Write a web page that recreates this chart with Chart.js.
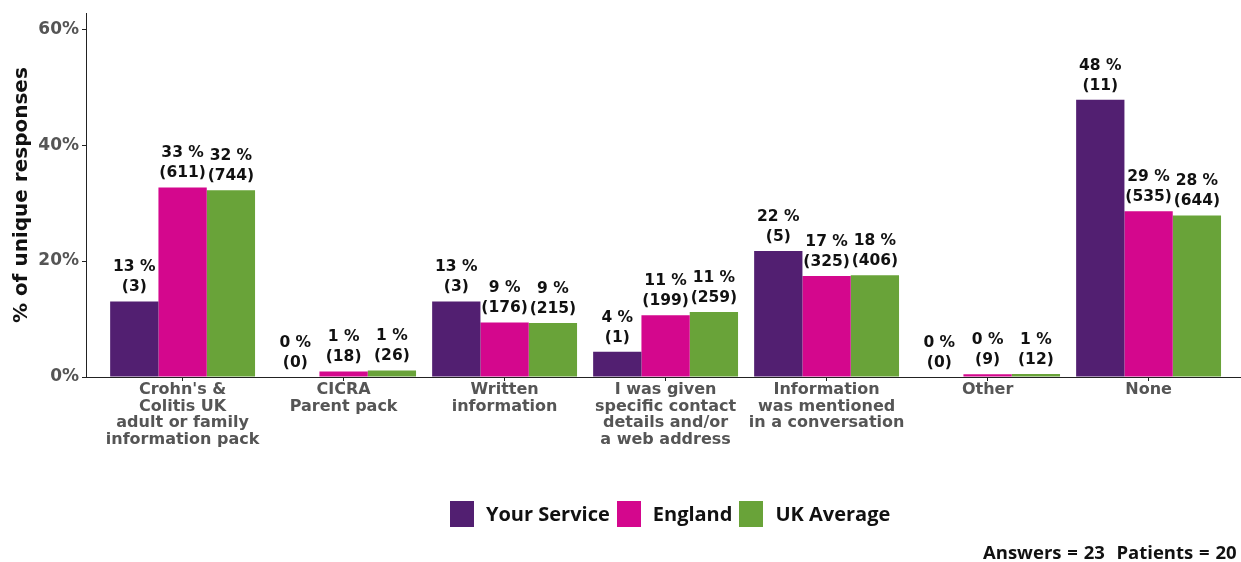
<!DOCTYPE html>
<html>
<head>
<meta charset="utf-8">
<script src="https://cdn.jsdelivr.net/npm/chart.js@4/dist/chart.umd.min.js"></script>
<style>
  body { margin: 0; background: #fff; overflow: hidden; }
  #wrap { position: relative; width: 1241px; height: 562px; overflow: hidden; }
  #legend { position: absolute; left: 450px; top: 500px; display: flex; align-items: center;
            font: bold 20px "Open Sans", sans-serif; color: #111; }
  #legend span.box { display: inline-block; width: 24px; height: 26px; }
  #legend span.txt { margin: 0 7px 0 12px; }
  #footer { position: absolute; left: 983px; top: 539px; white-space: nowrap; word-spacing: 1px;
            font: bold 18.5px "Open Sans", sans-serif; color: #111; }
</style>
</head>
<body>
<div id="wrap">
  <canvas id="chart" width="1241" height="562"></canvas>
  <div id="legend"></div>
  <div id="footer">Answers = 23&nbsp; Patients = 20</div>
</div>
<script>
// categories (one array per label, one line per entry)
const categories = [
  ["Crohn's &", "Colitis UK", "adult or family", "information pack"],
  ["CICRA", "Parent pack"],
  ["Written", "information"],
  ["I was given", "specific contact", "details and/or", "a web address"],
  ["Information", "was mentioned", "in a conversation"],
  ["Other"],
  ["None"]
];

const seriesNames = ["Your Service", "England", "UK Average"];
const seriesColors = ["#521f71", "#d4078d", "#69a339"];

// percentages
const yourService = [13.04, 0, 13.04, 4.35, 21.74, 0, 47.83];
const england = [32.7, 0.96, 9.42, 10.65, 17.4, 0.48, 28.6];
const ukAverage = [32.2, 1.13, 9.3, 11.2, 17.57, 0.52, 27.87];

// response counts
const yourServiceN = [3, 0, 3, 1, 5, 0, 11];
const englandN = [611, 18, 176, 199, 325, 9, 535];
const ukAverageN = [744, 26, 215, 259, 406, 12, 644];

const yTicks = [0, 20, 40, 60];

const values = [yourService, england, ukAverage];
const counts = [yourServiceN, englandN, ukAverageN];

// labels above each bar: "13 %" and "(3)"
const barLabels = {
  id: "barLabels",
  afterDatasetsDraw(chart) {
    const ctx = chart.ctx;
    ctx.save();
    ctx.font = "bold 15.5px 'DejaVu Sans'";
    ctx.fillStyle = "#111";
    ctx.textAlign = "center";
    ctx.textBaseline = "middle";
    chart.data.datasets.forEach((ds, d) => {
      chart.getDatasetMeta(d).data.forEach((bar, i) => {
        ctx.fillText(Math.round(values[d][i]) + " %", bar.x, bar.y - 34);
        ctx.fillText("(" + counts[d][i] + ")", bar.x, bar.y - 14);
      });
    });
    ctx.restore();
  }
};

new Chart(document.getElementById("chart"), {
  type: "bar",
  data: {
    datasets: seriesNames.map((name, d) => ({
      label: name,
      data: values[d].map((v, i) => ({ x: i + 1, y: v })),
      backgroundColor: seriesColors[d],
      categoryPercentage: 0.9,
      barPercentage: 1
    }))
  },
  options: {
    responsive: false,
    animation: false,
    layout: { padding: { top: 11, left: 0, right: 0, bottom: 0 } },
    plugins: { legend: { display: false }, tooltip: { enabled: false } },
    scales: {
      x: {
        type: "linear",
        min: 0.4,
        max: 7.574,
        offset: false,
        afterFit: s => { s.height = 185; },
        afterBuildTicks: s => { s.ticks = categories.map((c, i) => ({ value: i + 1 })); },
        grid: { offset: false, drawOnChartArea: false, drawTicks: true, tickLength: 4, color: "#222" },
        border: { display: true, color: "#222", width: 1 },
        ticks: {
          autoSkip: false,
          maxRotation: 0,
          padding: 1,
          color: "#555",
          font: { family: "DejaVu Sans", weight: "bold", size: 16, lineHeight: 1.03 },
          callback: v => categories[v - 1] || ""
        }
      },
      y: {
        min: 0,
        max: 62.75,
        afterFit: s => { s.width = 86; },
        afterBuildTicks: s => { s.ticks = yTicks.map(v => ({ value: v })); },
        grid: { drawOnChartArea: false, drawTicks: true, tickLength: 4, color: "#222" },
        border: { display: true, color: "#222", width: 1 },
        ticks: {
          padding: 3,
          color: "#555",
          font: { family: "DejaVu Sans", weight: "bold", size: 17 },
          callback: v => v + "%"
        },
        title: {
          display: true,
          text: "% of unique responses",
          color: "#111",
          padding: { top: 10, bottom: 0 },
          font: { family: "DejaVu Sans", weight: "bold", size: 20 }
        }
      }
    }
  },
  plugins: [barLabels]
});

// legend
const legend = document.getElementById("legend");
seriesNames.forEach((name, d) => {
  const box = document.createElement("span");
  box.className = "box";
  box.style.background = seriesColors[d];
  const txt = document.createElement("span");
  txt.className = "txt";
  txt.textContent = name;
  legend.appendChild(box);
  legend.appendChild(txt);
});
</script>
</body>
</html>
